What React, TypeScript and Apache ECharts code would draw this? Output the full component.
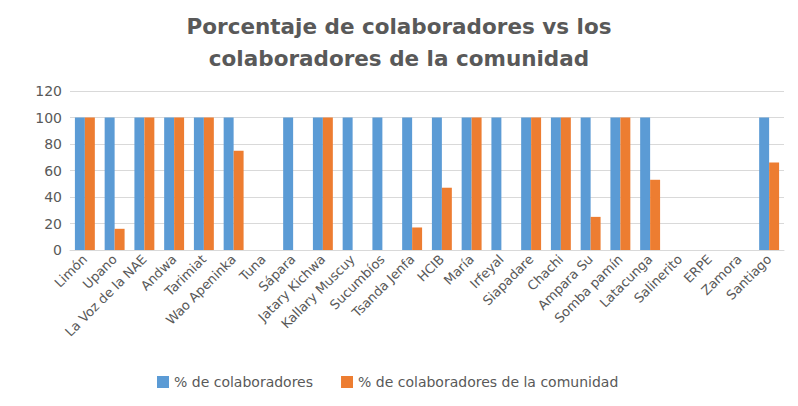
import React, { useEffect, useRef } from "react";
import * as echarts from "echarts";

const categories = [
  "Limón", "Upano", "La Voz de la NAE", "Andwa", "Tarimiat", "Wao Apeninka", "Tuna", "Sápara",
  "Jatary Kichwa", "Kallary Muscuy", "Sucumbíos", "Tsanda Jenfa", "HCIB", "María", "Irfeyal",
  "Siapadare", "Chachi", "Ampara Su", "Somba pamín", "Latacunga", "Salinerito", "ERPE", "Zamora", "Santiago",
];
const colaboradores = [
  100, 100, 100, 100, 100, 100, null, 100, 100, 100, 100, 100, 100, 100, 100,
  100, 100, 100, 100, 100, null, null, null, 100,
];
const comunidad = [
  100, 16, 100, 100, 100, 75, null, null, 100, null, null, 17, 47, 100, null,
  100, 100, 25, 100, 53, null, null, null, 66,
];
const seriesNames = ["% de colaboradores", "% de colaboradores de la comunidad"];
const titleText = "Porcentaje de colaboradores vs los\ncolaboradores de la comunidad";

export default function App() {
  const ref = useRef<HTMLDivElement>(null);
  useEffect(() => {
    if (!ref.current) return;
    const chart = echarts.init(ref.current, undefined, { renderer: "svg" });
    const font = "'DejaVu Sans', sans-serif";
    chart.setOption({
      animation: false,
      backgroundColor: "#ffffff",
      textStyle: { fontFamily: font },
      title: {
        text: titleText,
        left: "center",
        top: 5,
        textStyle: {
          fontFamily: font,
          fontSize: 21.5,
          fontWeight: "bold",
          color: "#595959",
          lineHeight: 32,
        },
      },
      legend: {
        bottom: 12,
        left: 152,
        itemWidth: 12,
        itemHeight: 12,
        itemGap: 28,
        icon: "rect",
        textStyle: { fontFamily: font, fontSize: 14, color: "#595959" },
        data: seriesNames,
      },
      grid: { left: 70, right: 14, top: 91, bottom: 156 },
      xAxis: {
        type: "category",
        data: categories,
        axisLine: { show: true, lineStyle: { color: "#d9d9d9" } },
        axisTick: { show: false },
        axisLabel: {
          interval: 0,
          rotate: 45,
          fontFamily: font,
          fontSize: 13,
          color: "#595959",
          margin: 7,
        },
      },
      yAxis: {
        type: "value",
        min: 0,
        max: 120,
        interval: 20,
        axisLine: { show: false },
        axisTick: { show: false },
        axisLabel: { fontFamily: font, fontSize: 14, color: "#595959", margin: 8 },
        splitLine: { lineStyle: { color: "#d9d9d9", width: 1 } },
      },
      series: [
        {
          name: seriesNames[0],
          type: "bar",
          data: colaboradores,
          barGap: "0%",
          barCategoryGap: "33%",
          itemStyle: { color: "#5b9bd5" },
        },
        {
          name: seriesNames[1],
          type: "bar",
          data: comunidad,
          barGap: "0%",
          barCategoryGap: "33%",
          itemStyle: { color: "#ed7d31" },
        },
      ],
    });
    return () => chart.dispose();
  }, []);
  return (
    <div
      ref={ref}
      style={{ position: "absolute", left: 0, top: 0, width: 798, height: 406 }}
    />
  );
}
